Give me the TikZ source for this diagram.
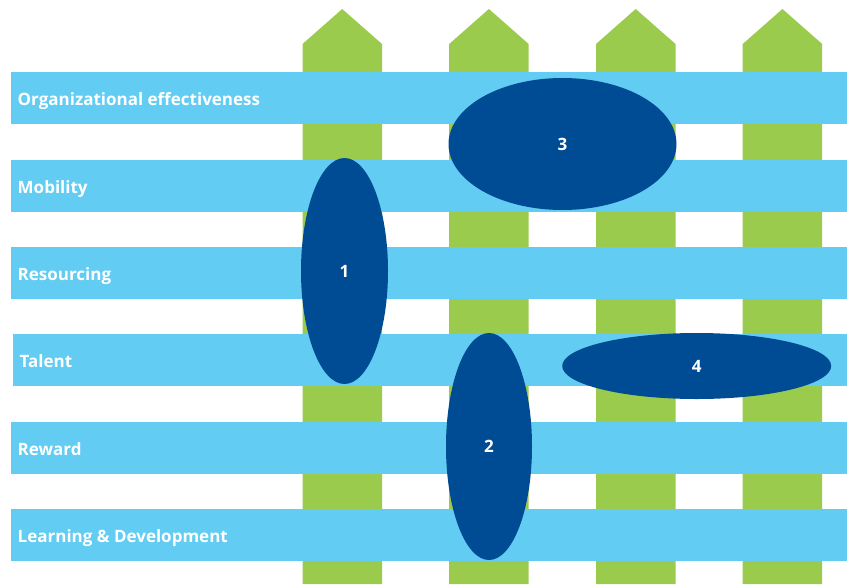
\documentclass[tikz,border=0pt]{standalone}
\usepackage{fontspec}
\setmainfont{Open Sans}
\usetikzlibrary{shapes.geometric}

\definecolor{picketgreen}{RGB}{155,203,76}
\definecolor{barblue}{RGB}{98,204,243}
\definecolor{ovalblue}{RGB}{0,76,148}

\tikzset{
  picket/.style={fill=picketgreen},
  bar/.style={fill=barblue},
  barlabel/.style={anchor=base west,text=white,font=\bfseries\fontsize{17}{20}\selectfont,inner sep=0pt},
  oval/.style={ellipse,fill=ovalblue,inner sep=0pt,text=white,font=\bfseries\fontsize{17}{20}\selectfont}
}

\begin{document}
\begin{tikzpicture}[x=1pt,y=-1pt]
  \useasboundingbox (0,0) rectangle (848,584);

  % fence pickets
  \foreach \px in {302.5,449.2,596,742.7}{
    \fill[picket] (\px,584) -- (\px,44) -- (\px+39.7,9) -- (\px+79.5,44) -- (\px+79.5,584) -- cycle;
  }

  % horizontal bars with their labels
  \foreach \i/\top/\lx/\lab in {1/72/11/{Organizational effectiveness},2/160/11/{Mobility},3/247/11/{Resourcing},4/334/13/{Talent},5/422/11/{Reward},6/509/11/{Learning \& Development}}{
    \fill[bar] (\lx,\top) rectangle (847,\top+52);
    \node[barlabel] (lab\i) at (\lx+6.5,\top+33) {\lab};
  }

  % numbered ovals
  \node[oval,minimum width=87pt,minimum height=226pt] (o1) at (344.5,271) {1};
  \node[oval,minimum width=86pt,minimum height=227pt] (o2) at (489,446.5) {2};
  \node[oval,minimum width=228pt,minimum height=132pt] (o3) at (562.5,144) {3};
  \node[oval,minimum width=269pt,minimum height=66pt] (o4) at (696.7,366) {4};
\end{tikzpicture}
\end{document}
